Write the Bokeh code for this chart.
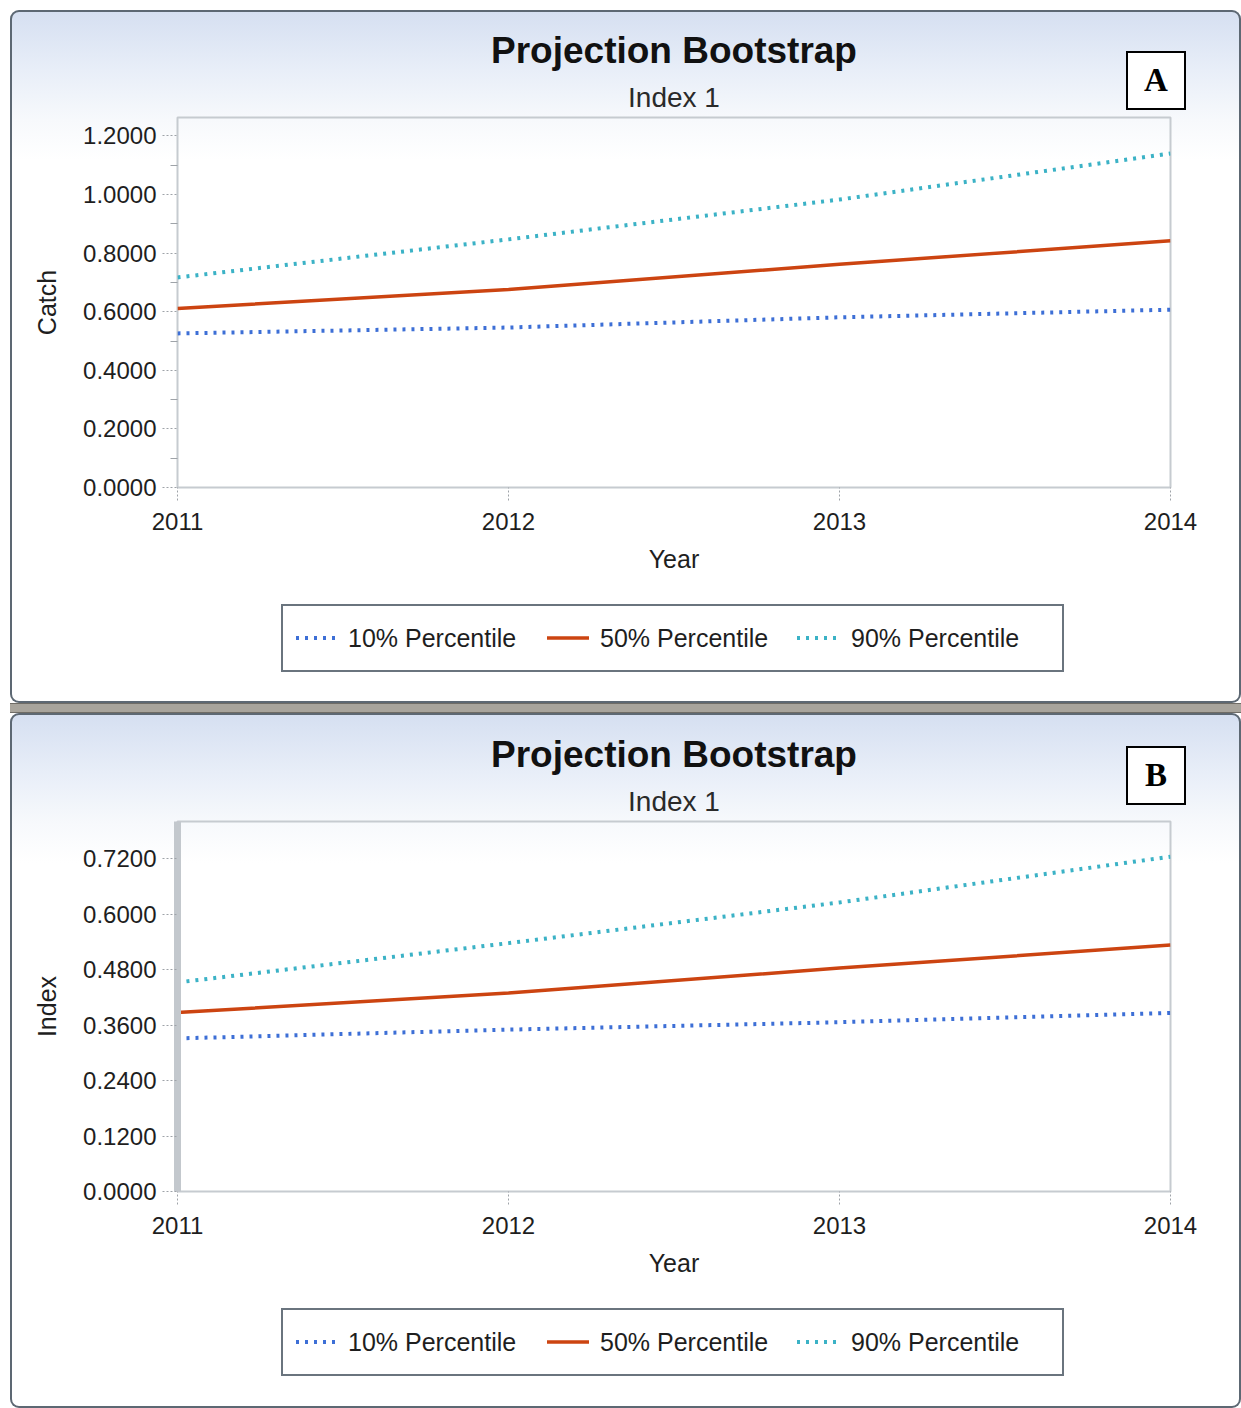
from bokeh.plotting import figure
from bokeh.models import Range1d, FixedTicker, PrintfTickFormatter, Title, Div
from bokeh.layouts import column
from bokeh.embed import file_html
from bokeh.resources import INLINE

# ---------------- data ----------------
years = [2011, 2012, 2013, 2014]
year_ticks = [2011, 2012, 2013, 2014]

catch_p10 = [0.526, 0.546, 0.581, 0.607]
catch_p50 = [0.611, 0.676, 0.762, 0.842]
catch_p90 = [0.717, 0.847, 0.983, 1.140]

index_p10 = [0.331, 0.350, 0.366, 0.386]
index_p50 = [0.387, 0.429, 0.483, 0.533]
index_p90 = [0.452, 0.537, 0.625, 0.724]

series_labels = ["10% Percentile", "50% Percentile", "90% Percentile"]

catch_ticks = [0.0, 0.2, 0.4, 0.6, 0.8, 1.0, 1.2]
catch_minor = [0.1, 0.3, 0.5, 0.7, 0.9, 1.1]
index_ticks = [0.0, 0.12, 0.24, 0.36, 0.48, 0.60, 0.72]
index_minor = []

main_title = "Projection Bootstrap"
sub_title = "Index 1"

FONT = "Liberation Sans"
TEXT = "#1e1e1e"
TICK = "#9ea3a8"
COLORS = ["#3d6fd6", "#cc4411", "#3bb2c6"]
DASHES = ["3 6", None, "3 6"]
WIDTHS = [4, 3.5, 4]


def legend_div(height, top):
    # legend strip drawn under the chart (box, glyph samples and labels)
    glyph_x = [13, 264, 514]
    text_x = [65, 317, 568]
    parts = []
    for i, lab in enumerate(series_labels):
        dash = f' stroke-dasharray="{DASHES[i]}"' if DASHES[i] else ""
        parts.append(
            f'<svg style="position:absolute;left:{glyph_x[i]}px;top:28px" width="42" height="8">'
            f'<line x1="0" y1="4" x2="42" y2="4" stroke="{COLORS[i]}" '
            f'stroke-width="{WIDTHS[i]}"{dash}/></svg>'
            f'<span style="position:absolute;left:{text_x[i]}px;top:0;line-height:64px;'
            f'white-space:nowrap">{lab}</span>')
    html = (f'<div style="position:relative;width:1231px;height:{height}px">'
            f'<div style="position:absolute;left:271px;top:{top}px;width:783px;height:68px;'
            f'box-sizing:border-box;border:2px solid #6a747e;background:#ffffff;'
            f'font-family:\'{FONT}\';font-size:25px;color:{TEXT}">'
            + "".join(parts) + '</div></div>')
    return Div(text=html, width=1231, height=height, margin=0)


def tag_div(letter, top):
    # boxed panel letter (A / B), overlaid at the top-right of the panel
    html = (f'<div style="position:relative;width:0;height:0">'
            f'<div style="position:absolute;left:1116px;top:{top}px;width:60px;height:59px;'
            f'box-sizing:border-box;border:2px solid #000000;background:#ffffff;z-index:10;'
            f'font-family:\'Liberation Serif\';font-weight:bold;font-size:33px;color:#000000;'
            f'text-align:center;line-height:55px">{letter}</div></div>')
    return Div(text=html, width=1231, height=0, margin=0,
               styles={"overflow": "visible", "z-index": "10"})


def make_panel(ylabel, p10, p50, p90, yticks, yminor, y_end, letter, top, leg_h, bar, tag_top):
    p = figure(frame_width=993, frame_height=370, title=None,
               x_range=Range1d(2011, 2014), y_range=Range1d(0, y_end),
               output_backend="svg", toolbar_location=None,
               min_border_left=167, min_border_right=71,
               min_border_top=top, min_border_bottom=100)
    p.border_fill_alpha = 0
    p.background_fill_alpha = 0
    p.outline_line_color = "#c6cbd0"
    p.outline_line_width = 2
    p.xgrid.visible = False
    p.ygrid.visible = False

    for vals, col, dash, w in zip([p10, p50, p90], COLORS, DASHES, WIDTHS):
        if dash:
            p.line(years, vals, line_color=col, line_width=w, line_dash=dash)
        else:
            p.line(years, vals, line_color=col, line_width=w)

    xa = p.xaxis[0]
    xa.ticker = FixedTicker(ticks=year_ticks, minor_ticks=[])
    xa.formatter = PrintfTickFormatter(format="%d")
    xa.axis_line_color = None
    xa.major_tick_out = 13
    xa.major_tick_in = 0
    xa.major_tick_line_color = TICK
    xa.major_tick_line_dash = "2 2"
    xa.major_label_standoff = 12
    xa.major_label_text_font = FONT
    xa.major_label_text_font_size = "24px"
    xa.major_label_text_color = TEXT
    xa.axis_label = "Year"
    xa.axis_label_text_font = FONT
    xa.axis_label_text_font_size = "25px"
    xa.axis_label_text_font_style = "normal"
    xa.axis_label_text_color = TEXT
    xa.axis_label_standoff = 12

    ya = p.yaxis[0]
    ya.ticker = FixedTicker(ticks=yticks, minor_ticks=yminor)
    ya.formatter = PrintfTickFormatter(format="%.4f")
    if bar:
        ya.axis_line_color = "#c3c8cd"
        ya.axis_line_width = 7
    else:
        ya.axis_line_color = None
    ya.major_tick_out = 15
    ya.major_tick_in = 0
    ya.major_tick_line_color = TICK
    ya.major_tick_line_dash = "2 2"
    ya.minor_tick_out = 7
    ya.minor_tick_in = 0
    ya.minor_tick_line_color = TICK
    ya.major_label_standoff = 6
    ya.major_label_text_font = FONT
    ya.major_label_text_font_size = "24px"
    ya.major_label_text_color = TEXT
    ya.axis_label = ylabel
    ya.axis_label_text_font = FONT
    ya.axis_label_text_font_size = "25px"
    ya.axis_label_text_font_style = "normal"
    ya.axis_label_text_color = TEXT
    ya.axis_label_standoff = 19

    p.add_layout(Title(text=sub_title, align="center", text_font=FONT,
                       text_font_size="28px", text_font_style="normal",
                       text_color="#2a2a2a", standoff=10), "above")
    p.add_layout(Title(text=main_title, align="center", text_font=FONT,
                       text_font_size="37px", text_font_style="bold",
                       text_color="#111111", standoff=8), "above")

    panel = column(tag_div(letter, tag_top), p, legend_div(leg_h, 17), spacing=0, margin=0,
                   styles={
                       "background": "linear-gradient(to bottom, #d5dff1 0px, #e8eef8 60px, #f7f9fc 110px, #ffffff 150px)",
                       "box-shadow": "inset 0 0 0 2px #5d6873",
                       "border-radius": "9px",
                   })
    return panel


panelA = make_panel("Catch", catch_p10, catch_p50, catch_p90, catch_ticks, catch_minor,
                    1.263, "A", 107, 116, False, 29)
gap = Div(width=1231, height=10, margin=0,
          styles={"background-color": "#a8a49c",
                  "border-top": "1px solid #6f6c66", "border-bottom": "1px solid #6f6c66",
                  "box-sizing": "border-box"})
panelB = make_panel("Index", index_p10, index_p50, index_p90, index_ticks, index_minor,
                    0.80, "B", 108, 117, True, 21)

layout = column(panelA, gap, panelB, margin=(10, 0, 0, 10), spacing=0)

open("out.html", "w").write(file_html(layout, INLINE))
